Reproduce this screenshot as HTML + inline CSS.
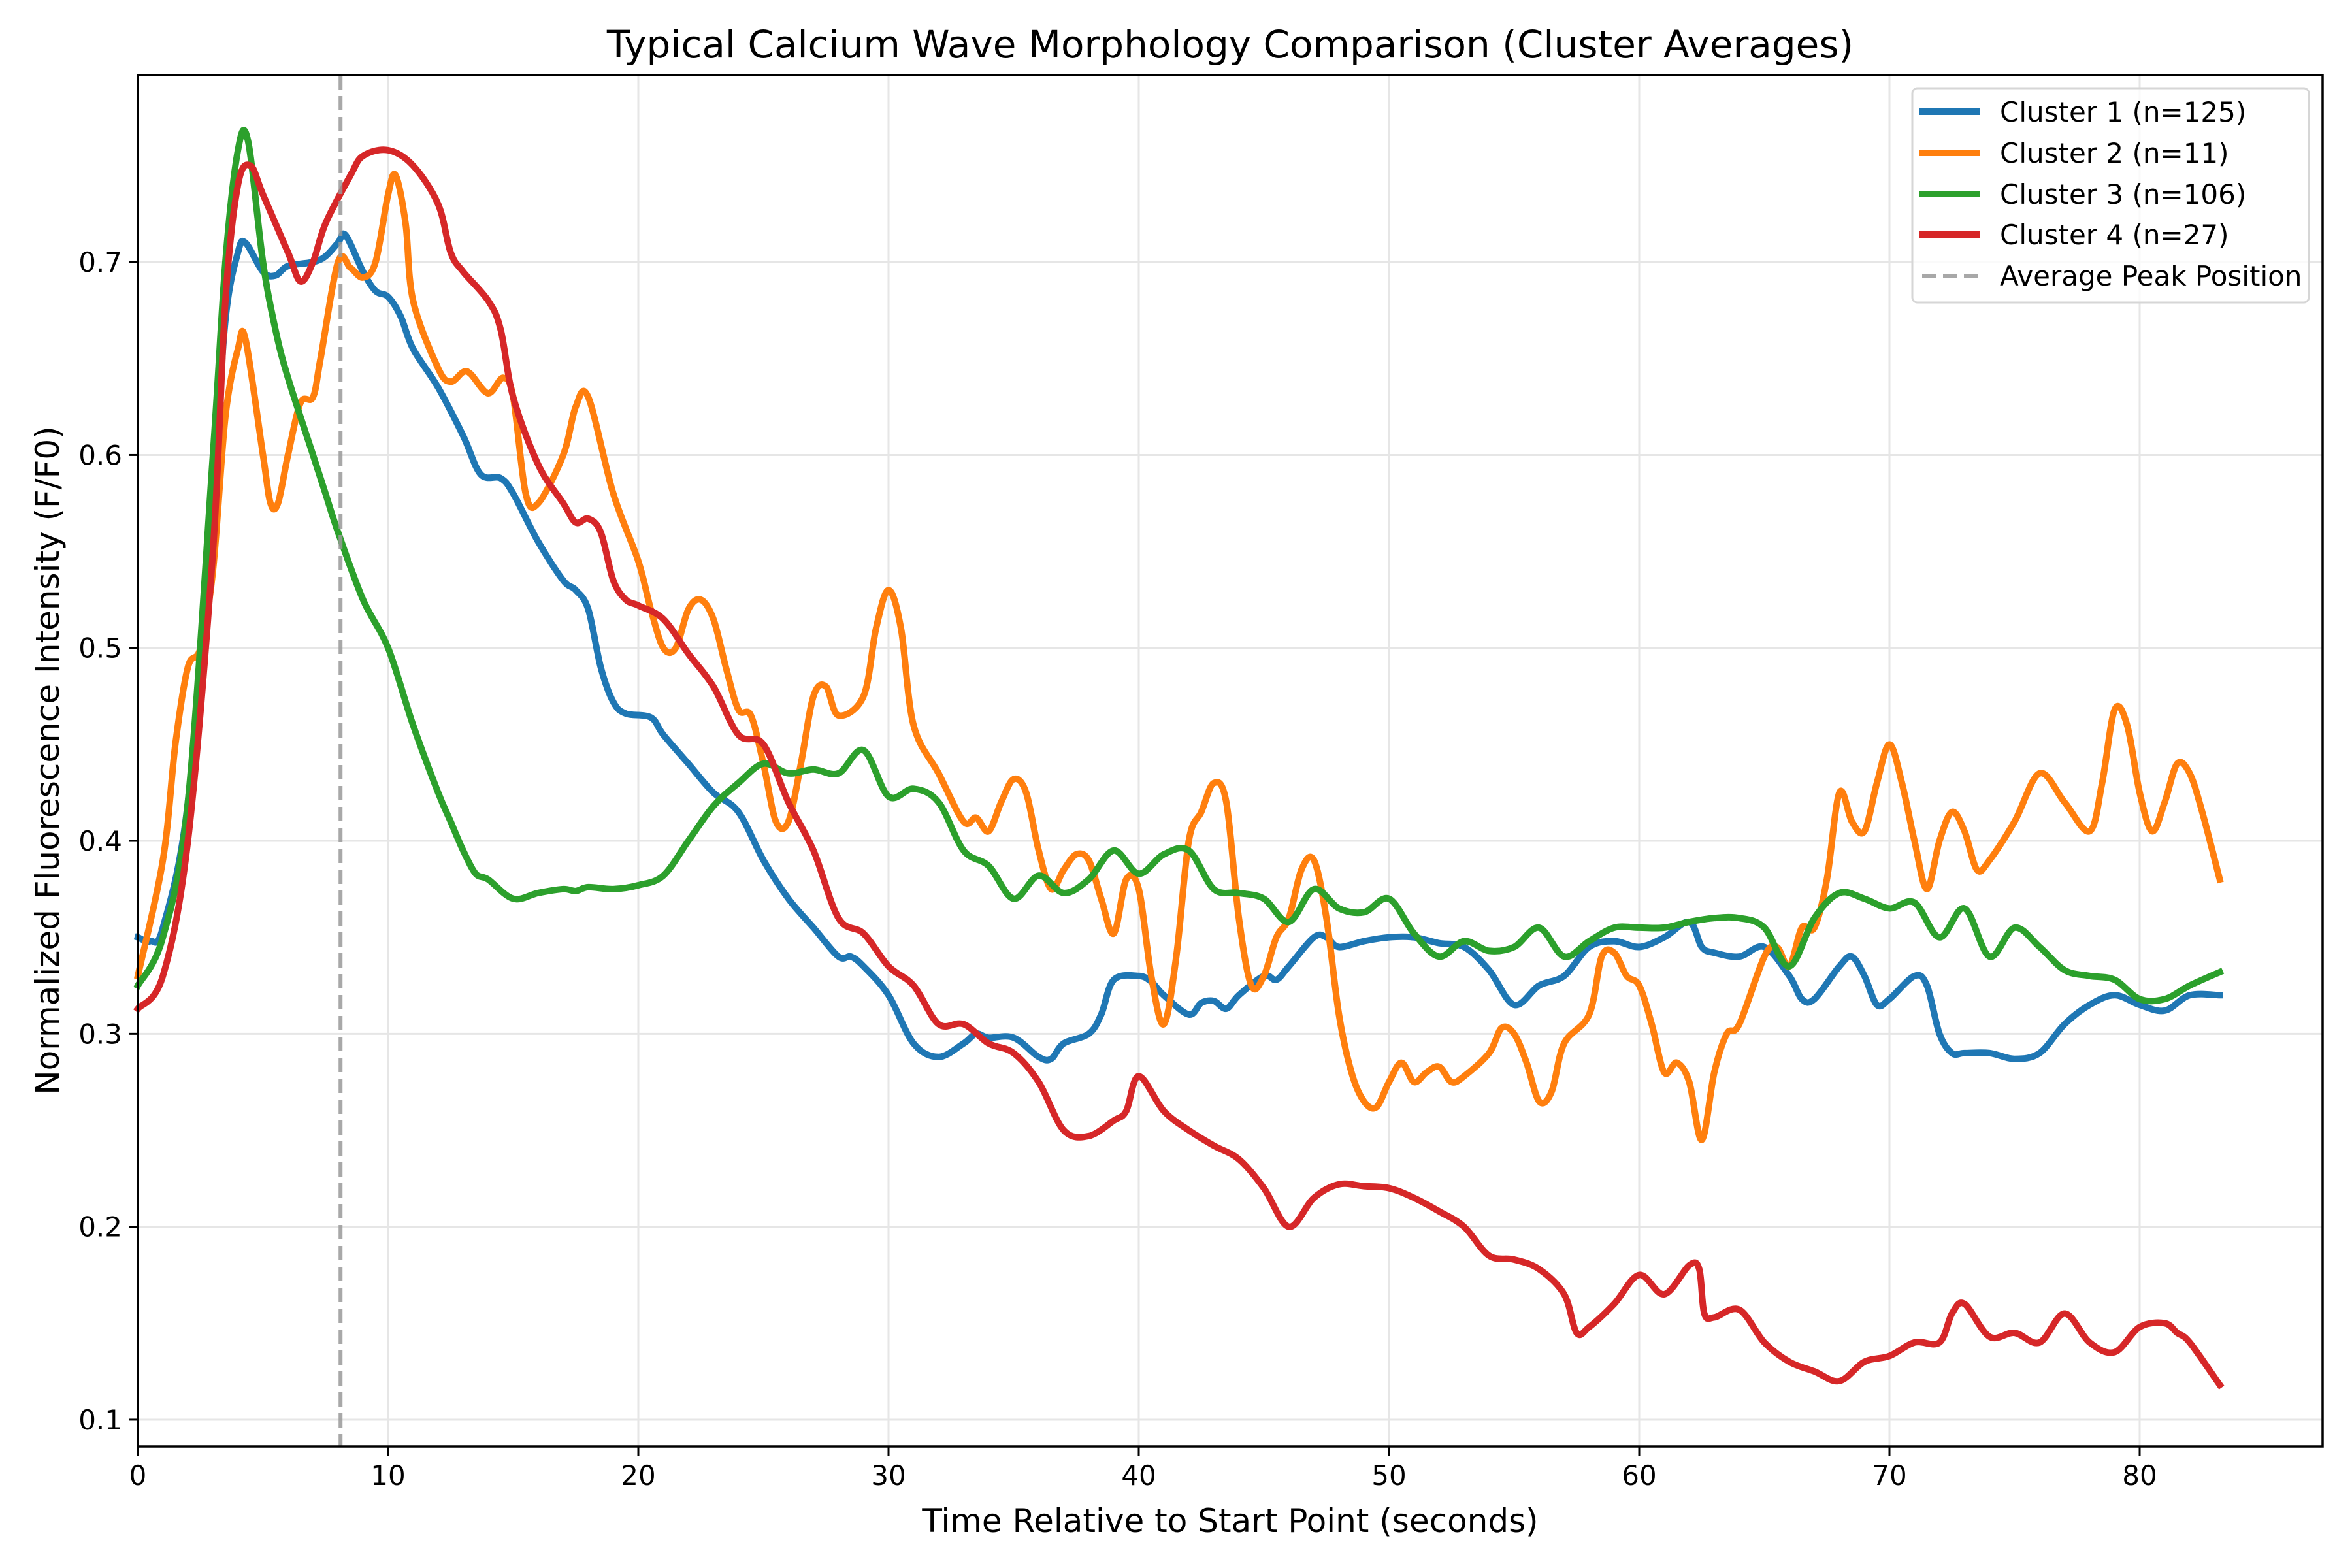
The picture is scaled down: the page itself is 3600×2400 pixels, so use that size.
<!DOCTYPE html>
<html><head><meta charset="utf-8"><style>
html,body{margin:0;padding:0;background:#fff;}
svg{display:block;}
text{font-family:"DejaVu Sans","Liberation Sans",sans-serif;fill:#000;}
</style></head><body>
<svg id="chart" width="3600" height="2400" viewBox="0 0 3600 2400" xmlns="http://www.w3.org/2000/svg">
<rect width="3600" height="2400" fill="#fff"/>
<g id="grid"></g>
<g id="marks"></g>
<rect x="211" y="115" width="3344" height="2099" fill="none" stroke="#000" stroke-width="3.5"/>
<g id="ticks"></g>
<text x="1883" y="88" font-size="58" text-anchor="middle">Typical Calcium Wave Morphology Comparison (Cluster Averages)</text>
<text x="1883" y="2345" font-size="50" text-anchor="middle">Time Relative to Start Point (seconds)</text>
<text x="0" y="0" font-size="50" text-anchor="middle" transform="translate(90,1164) rotate(-90)">Normalized Fluorescence Intensity (F/F0)</text>
<g id="legend">
<rect x="2927" y="135" width="607" height="328" rx="8" fill="#fff" fill-opacity="0.8" stroke="#d6d6d6" stroke-width="3"/>
</g>
</svg>
<script>
const xTicks = [0,10,20,30,40,50,60,70,80];
const yTicks = [0.1,0.2,0.3,0.4,0.5,0.6,0.7];
const yTickLabels = ["0.1","0.2","0.3","0.4","0.5","0.6","0.7"];
const peakPosition = 8.1;
const seriesNames = ["Cluster 1 (n=125)","Cluster 2 (n=11)","Cluster 3 (n=106)","Cluster 4 (n=27)"];
const seriesColors = ["#1f77b4","#ff7f0e","#2ca02c","#d62728"];
const c1t = [0,0.5,1,2,3,3.5,4,4.3,5,5.5,6,7,7.5,8,8.3,9,9.5,10,10.5,11,12,13,13.7,14.5,15,16,17,17.5,18,18.5,19,19.5,20.5,21,22,23,24,25,26,27,28,28.5,29,30,31,32,33,33.5,34,35,36,36.5,37,38,38.5,39,40,40.5,41,42,42.5,43,43.5,44,45,45.5,46,47,47.5,48,49,50,51,52,53,54,55,56,57,58,59,60,61,62,62.5,63,64,65,66,66.5,67,68,68.5,69,69.5,70,71,71.5,72,72.5,73,74,75,76,77,78,79,80,81,82,83.2];
const c1v = [0.35,0.348,0.355,0.42,0.58,0.67,0.705,0.71,0.695,0.693,0.698,0.70,0.703,0.71,0.714,0.695,0.685,0.682,0.672,0.655,0.635,0.61,0.59,0.588,0.58,0.555,0.535,0.53,0.52,0.49,0.472,0.466,0.464,0.455,0.44,0.425,0.415,0.39,0.37,0.355,0.34,0.34,0.335,0.32,0.295,0.288,0.295,0.3,0.298,0.298,0.288,0.287,0.295,0.3,0.31,0.328,0.33,0.327,0.32,0.31,0.316,0.317,0.313,0.32,0.33,0.328,0.335,0.35,0.35,0.345,0.348,0.35,0.35,0.347,0.345,0.333,0.315,0.325,0.33,0.345,0.348,0.345,0.35,0.358,0.345,0.342,0.34,0.345,0.33,0.318,0.318,0.335,0.34,0.33,0.315,0.318,0.33,0.325,0.3,0.29,0.29,0.29,0.287,0.29,0.305,0.315,0.32,0.315,0.312,0.32,0.32];
const c2t = [0,1,1.5,2,2.5,3,3.5,4,4.3,5,5.3,5.6,6,6.5,7,7.3,8,8.5,9,9.5,10,10.3,10.7,11,12,12.5,13,13.3,14,14.6,15,15.5,16,17,17.5,18,19,20,20.5,21,21.5,22,22.5,23,23.5,24,24.5,25,25.5,26,26.5,27,27.5,28,29,29.5,30,30.5,31,32,33,33.5,34,34.5,35,35.5,36,36.5,37,37.5,38,38.5,39,39.5,40,40.5,41,41.5,42,42.5,43,43.5,44,44.5,45,45.5,46,46.5,47,47.5,48,48.5,49,49.5,50,50.5,51,51.5,52,52.5,53,54,54.5,55,55.5,56,56.5,57,58,58.5,59,59.5,60,60.5,61,61.5,62,62.5,63,63.5,64,65,65.5,66,66.5,67,67.5,68,68.5,69,69.5,70,70.5,71,71.5,72,72.5,73,73.5,74,75,76,77,78,78.5,79,79.5,80,80.5,81,81.5,82,82.5,83.2];
const c2v = [0.33,0.39,0.45,0.49,0.5,0.54,0.62,0.655,0.66,0.6,0.575,0.575,0.6,0.627,0.63,0.65,0.7,0.697,0.692,0.7,0.735,0.745,0.72,0.68,0.645,0.638,0.643,0.642,0.632,0.64,0.63,0.58,0.575,0.6,0.625,0.63,0.58,0.545,0.52,0.5,0.5,0.52,0.525,0.515,0.49,0.468,0.465,0.44,0.41,0.41,0.44,0.475,0.48,0.465,0.475,0.51,0.53,0.51,0.46,0.435,0.41,0.412,0.405,0.42,0.432,0.425,0.395,0.375,0.385,0.393,0.39,0.37,0.352,0.38,0.375,0.33,0.305,0.34,0.4,0.415,0.43,0.42,0.36,0.325,0.33,0.35,0.36,0.385,0.39,0.36,0.31,0.28,0.265,0.262,0.275,0.285,0.275,0.28,0.283,0.275,0.278,0.29,0.303,0.3,0.285,0.265,0.27,0.295,0.31,0.34,0.342,0.33,0.325,0.305,0.28,0.285,0.275,0.245,0.28,0.3,0.305,0.34,0.345,0.335,0.355,0.355,0.38,0.425,0.41,0.405,0.43,0.45,0.43,0.4,0.375,0.4,0.415,0.405,0.385,0.39,0.41,0.435,0.42,0.405,0.43,0.468,0.46,0.425,0.405,0.42,0.44,0.435,0.415,0.38];
const c3t = [0,1,2,3,3.5,4,4.4,5,5.5,6,7,7.5,8,9,10,11,12,12.5,13,13.5,14,15,16,17,17.5,18,19,20,21,22,23,24,25,26,27,28,29,30,31,32,33,34,35,36,37,38,39,40,41,42,43,44,45,46,47,48,49,50,51,52,53,54,55,56,57,58,59,60,61,62,63,64,65,66,67,68,69,70,71,72,73,74,75,76,77,78,79,80,81,82,83.2];
const c3v = [0.325,0.35,0.42,0.6,0.7,0.758,0.763,0.7,0.665,0.64,0.6,0.58,0.56,0.525,0.5,0.46,0.425,0.41,0.395,0.383,0.38,0.37,0.373,0.375,0.374,0.376,0.375,0.377,0.382,0.4,0.418,0.43,0.44,0.435,0.437,0.435,0.447,0.423,0.427,0.42,0.395,0.387,0.37,0.382,0.373,0.38,0.395,0.383,0.393,0.395,0.375,0.373,0.37,0.358,0.375,0.365,0.363,0.37,0.352,0.34,0.348,0.343,0.345,0.355,0.34,0.348,0.355,0.355,0.355,0.358,0.36,0.36,0.355,0.335,0.36,0.373,0.37,0.365,0.368,0.35,0.365,0.34,0.355,0.345,0.333,0.33,0.328,0.318,0.318,0.325,0.332];
const c4t = [0,1,2,3,3.5,4,4.5,5,6,6.5,7,7.5,8.5,9,10,11,12,12.5,13,14,14.5,15,16,17,17.5,18,18.5,19,19.5,20,21,22,23,24,25,26,27,28,29,30,31,32,33,34,35,36,37,38,39,39.5,40,41,42,43,44,45,46,47,48,49,50,51,52,53,54,55,56,57,57.5,58,59,60,61,62,62.4,62.6,63,64,65,66,67,68,69,70,71,72,72.5,73,74,75,76,77,78,79,80,81,81.5,82,83.2];
const c4v = [0.313,0.33,0.4,0.55,0.68,0.74,0.75,0.735,0.705,0.69,0.7,0.72,0.745,0.755,0.758,0.75,0.73,0.705,0.695,0.68,0.665,0.63,0.595,0.575,0.565,0.567,0.56,0.535,0.525,0.522,0.515,0.497,0.48,0.455,0.45,0.42,0.395,0.36,0.352,0.335,0.325,0.305,0.305,0.295,0.29,0.275,0.25,0.247,0.255,0.26,0.278,0.26,0.25,0.242,0.235,0.22,0.2,0.215,0.222,0.221,0.22,0.215,0.208,0.2,0.185,0.183,0.178,0.165,0.145,0.148,0.16,0.175,0.165,0.18,0.178,0.155,0.153,0.157,0.14,0.13,0.125,0.12,0.13,0.133,0.14,0.14,0.155,0.16,0.143,0.145,0.14,0.155,0.14,0.135,0.148,0.15,0.145,0.14,0.118];
const seriesT = [c1t,c2t,c3t,c4t];
const seriesV = [c1v,c2v,c3v,c4v];

const NS = "http://www.w3.org/2000/svg";
const X0 = 211, X1 = 3555, Y0 = 2214, Y1 = 115;
const XMIN = 0, XMAX = (X1 - X0) / 38.3;
const YMIN = 0.0861, YMAX = 0.7969;
function xs(t){ return X0 + (t - XMIN) / (XMAX - XMIN) * (X1 - X0); }
function ys(v){ return Y0 - (v - YMIN) / (YMAX - YMIN) * (Y0 - Y1); }
function mk(tag, attrs, parent){ const e = document.createElementNS(NS, tag); for (const k in attrs) e.setAttribute(k, attrs[k]); parent.appendChild(e); return e; }

const grid = document.getElementById('grid');
const ticks = document.getElementById('ticks');
xTicks.forEach(t => {
  const x = xs(t);
  const gl = mk('line', {x1:x, x2:x, y1:Y1, y2:Y0, stroke:'#e6e6e6', 'stroke-width':3}, grid);
  
  
  const tk = mk('line', {x1:x, x2:x, y1:Y0, y2:Y0+14, stroke:'#000', 'stroke-width':3}, ticks);
  
  
  const lb = mk('text', {x:x, y:Y0+59, 'font-size':42, 'text-anchor':'middle'}, ticks);
  lb.textContent = String(t);
  
  
});
yTicks.forEach((v, i) => {
  const y = ys(v);
  const gl = mk('line', {x1:X0, x2:X1, y1:y, y2:y, stroke:'#e6e6e6', 'stroke-width':3}, grid);
  
  
  const tk = mk('line', {x1:X0-14, x2:X0, y1:y, y2:y, stroke:'#000', 'stroke-width':3}, ticks);
  
  
  const lb = mk('text', {x:X0-24, y:y+15, 'font-size':42, 'text-anchor':'end'}, ticks);
  lb.textContent = yTickLabels[i];
  
  
});

const marks = document.getElementById('marks');
function smoothPath(ts, vs){
  const p = ts.map((t, i) => [xs(t), ys(vs[i])]);
  let d = 'M' + p[0][0].toFixed(1) + ' ' + p[0][1].toFixed(1);
  for (let i = 0; i < p.length - 1; i++) {
    const a = p[Math.max(0, i-1)], b = p[i], c = p[i+1], e = p[Math.min(p.length-1, i+2)];
    const c1x = b[0] + (c[0]-a[0])/6, c1y = b[1] + (c[1]-a[1])/6;
    const c2x = c[0] - (e[0]-b[0])/6, c2y = c[1] - (e[1]-b[1])/6;
    d += ' C' + c1x.toFixed(1)+' '+c1y.toFixed(1)+' '+c2x.toFixed(1)+' '+c2y.toFixed(1)+' '+c[0].toFixed(1)+' '+c[1].toFixed(1);
  }
  return d;
}
seriesT.forEach((ts, s) => {
  const path = mk('path', {d:smoothPath(ts, seriesV[s]), fill:'none', stroke:seriesColors[s], 'stroke-width':10, 'stroke-linejoin':'round', 'stroke-linecap':'square'}, marks);
  
  
});
const pk = mk('line', {x1:xs(peakPosition), x2:xs(peakPosition), y1:Y1, y2:Y0, stroke:'#999', 'stroke-opacity':0.85, 'stroke-width':6, 'stroke-dasharray':'22 10'}, marks);



const legend = document.getElementById('legend');
const legendY = [171, 234, 297, 359, 422];
seriesNames.forEach((n, i) => {
  const ln = mk('line', {x1:2938, x2:3031, y1:legendY[i], y2:legendY[i], stroke:seriesColors[i], 'stroke-width':10}, legend);
  
  
  const tx = mk('text', {x:3061, y:legendY[i]+15, 'font-size':42}, legend);
  tx.textContent = n;
  
  
});
const pl = mk('line', {x1:2942, x2:3028, y1:legendY[4], y2:legendY[4], stroke:'#999', 'stroke-opacity':0.85, 'stroke-width':6, 'stroke-dasharray':'22 10'}, legend);


const pt = mk('text', {x:3061, y:legendY[4]+15, 'font-size':42}, legend);
pt.textContent = 'Average Peak Position';


</script>
</body></html>
